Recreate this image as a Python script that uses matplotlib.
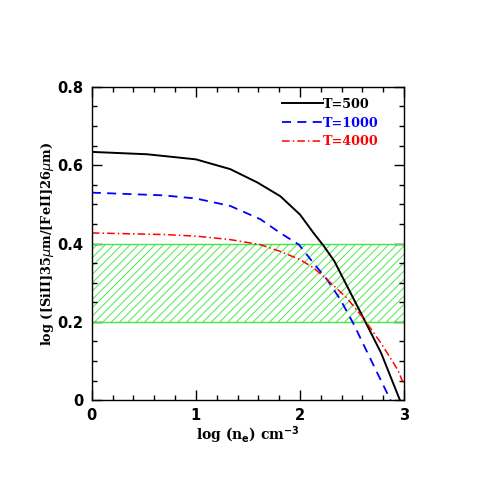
import numpy as np
import matplotlib
matplotlib.use("Agg")
import matplotlib.pyplot as plt
from matplotlib.ticker import MultipleLocator

# ---- data ----
x_500 = [0.0, 0.53, 1.0, 1.33, 1.59, 1.81, 2.0, 2.13, 2.23, 2.33, 2.42, 2.52, 2.63, 2.78, 2.96]
y_500 = [0.634, 0.628, 0.615, 0.59, 0.556, 0.521, 0.474, 0.427, 0.393, 0.355, 0.308, 0.256, 0.199, 0.12, 0.0]

x_1000 = [0.0, 0.69, 1.0, 1.33, 1.62, 1.81, 1.99, 2.13, 2.26, 2.39, 2.52, 2.65, 2.87]
y_1000 = [0.53, 0.523, 0.515, 0.496, 0.462, 0.427, 0.397, 0.35, 0.308, 0.256, 0.192, 0.12, 0.0]

x_4000 = [0.0, 0.69, 1.0, 1.33, 1.62, 1.81, 2.0, 2.13, 2.26, 2.45, 2.61, 2.78, 2.94, 3.0]
y_4000 = [0.427, 0.423, 0.419, 0.41, 0.397, 0.38, 0.359, 0.338, 0.308, 0.261, 0.209, 0.145, 0.077, 0.038]

band = [0.2, 0.4]   # observed ratio range
x_ticks = [0, 1, 2, 3]
y_ticks = [0, 0.2, 0.4, 0.6, 0.8]
y_tick_labels = ['0', '0.2', '0.4', '0.6', '0.8']

fig = plt.figure(figsize=(4.91, 4.91), dpi=100)
ax = fig.add_axes([0.187, 0.185, 0.636, 0.638])

# hatched observed band
plt.rcParams['hatch.color'] = '#4ce84c'
plt.rcParams['hatch.linewidth'] = 0.7
ax.fill_between([0, 3], band[0], band[1], facecolor='none', edgecolor='#4ce84c',
                hatch='////', linewidth=0)
ax.axhline(band[0], color='#44e644', lw=1.0)
ax.axhline(band[1], color='#44e644', lw=1.0)

ax.plot(x_500, y_500, color='black', lw=1.4, label='T=500')
ax.plot(x_1000, y_1000, color='blue', lw=1.3, ls=(0, (5, 3.5)), label='T=1000')
ax.plot(x_4000, y_4000, color='red', lw=1.1, ls=(0, (5, 2, 1, 2)), label='T=4000')

ax.set_xlim(0, 3)
ax.set_ylim(0, 0.8)
ax.set_xticks(x_ticks)
ax.set_xticklabels([str(t) for t in x_ticks], fontweight='bold')
ax.set_yticks(y_ticks)
ax.set_yticklabels(y_tick_labels, fontweight='bold')
ax.xaxis.set_minor_locator(MultipleLocator(0.2))
ax.yaxis.set_minor_locator(MultipleLocator(0.05))
ax.tick_params(which='both', direction='in', top=True, right=True, width=1.0)
ax.tick_params(which='major', length=7, labelsize=10.5, pad=6)
ax.tick_params(which='minor', length=3.5)
for s in ax.spines.values():
    s.set_linewidth(1.0)

ax.set_xlabel(r'log (n$_{\mathbf{e}}$) cm$^{\mathbf{-3}}$', family='DejaVu Serif',
              fontweight='bold', fontsize=10, labelpad=1)
ax.set_ylabel(r'log ([SiII]35$\mu$m/[FeII]26$\mu$m)', family='DejaVu Serif',
              fontweight='bold', fontsize=9.3, labelpad=1)

leg = ax.legend(loc='upper right', bbox_to_anchor=(0.92, 0.965), frameon=False,
                handlelength=3.2, handletextpad=0.0, borderpad=0, borderaxespad=0,
                labelcolor='linecolor', labelspacing=0.45,
                prop={'family': 'DejaVu Serif', 'weight': 'bold', 'size': 9.2})

fig.savefig('out.png', dpi=100)
